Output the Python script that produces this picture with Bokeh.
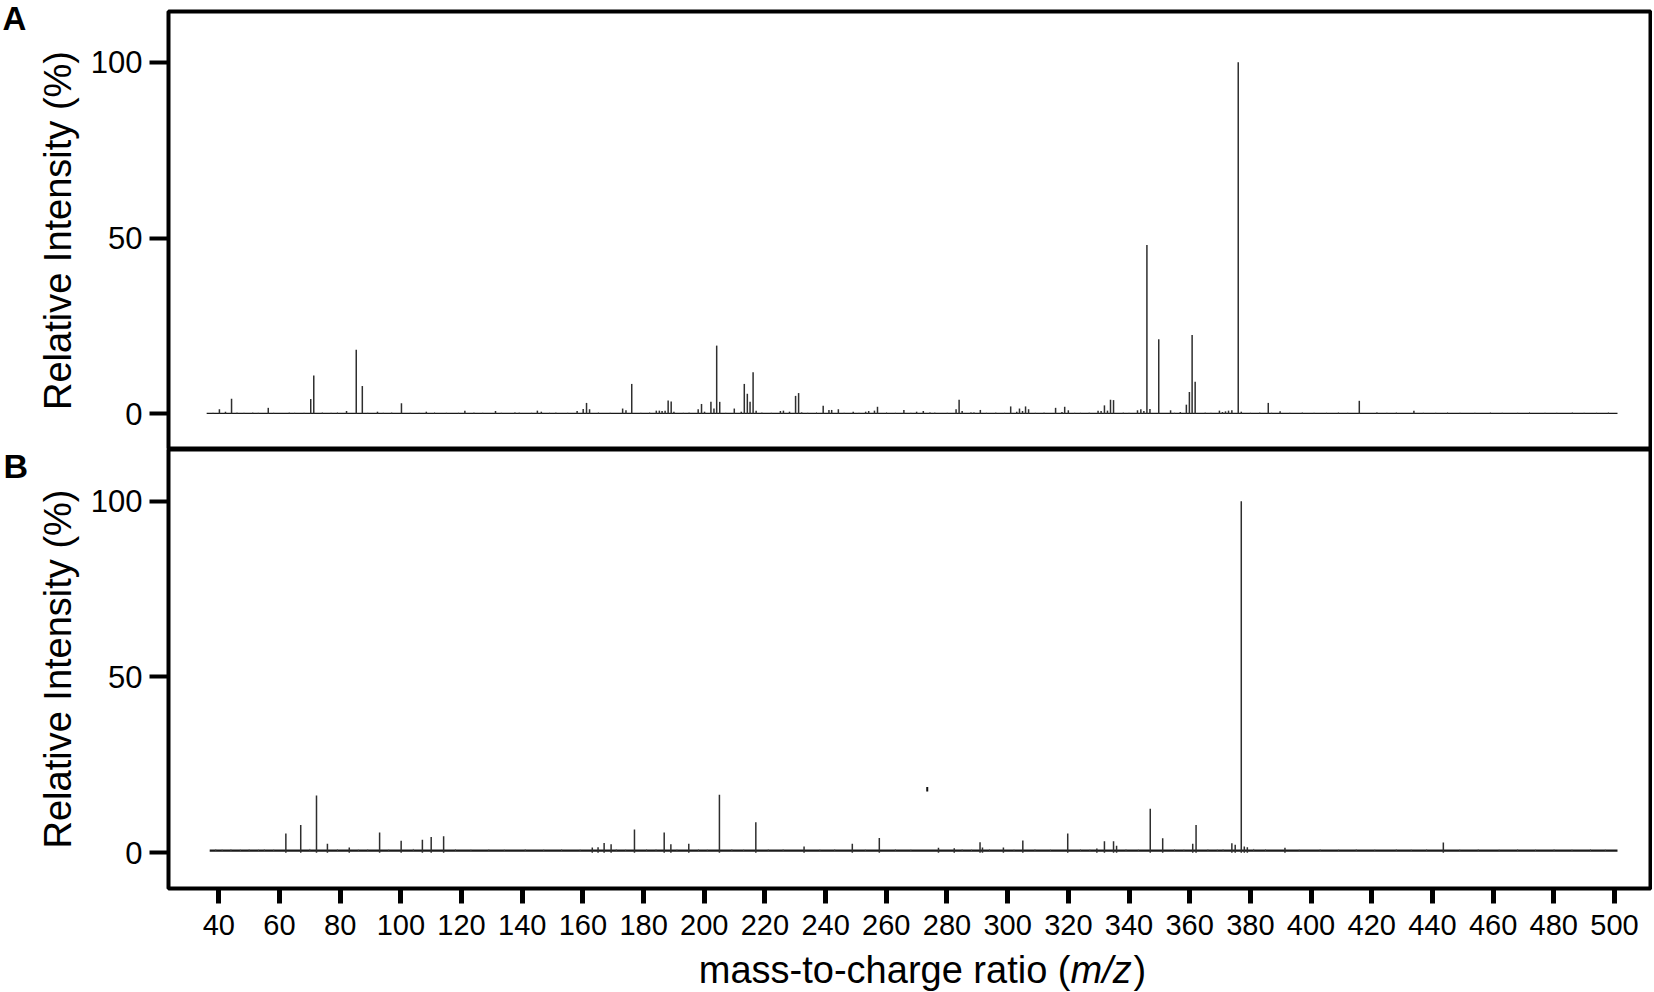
from bokeh.plotting import figure
from bokeh.models import Range1d, FixedTicker, Label, ColumnDataSource
from bokeh.layouts import column, row
from bokeh.embed import file_html
from bokeh.resources import INLINE

FONT = "Liberation Sans"

# ---------------- data ----------------
X_TICKS = [40, 60, 80, 100, 120, 140, 160, 180, 200, 220, 240, 260, 280, 300,
           320, 340, 360, 380, 400, 420, 440, 460, 480, 500]
Y_TICKS = [0, 50, 100]

# Spectrum A (top)
A_scan_range = [36.0, 501.0]
A_floor = 0.15
A_mz = [40.2, 42.2, 44.2, 56.3, 70.3, 71.3, 82.1, 85.3, 87.3, 92.3, 100.2, 108.4,
        121.1, 131.2, 137.6, 145.0, 146.3, 158.1, 160.1, 161.2, 162.2, 173.1, 174.2,
        176.1, 184.2, 185.2, 186.1, 187.1, 188.1, 189.1, 190.0, 198.0, 199.1, 200.1,
        202.2, 203.2, 204.1, 205.1, 209.9, 212.2, 213.2, 214.2, 215.1, 216.1, 217.1,
        225.1, 226.1, 228.1, 230.1, 231.1, 232.1, 239.2, 241.1, 242.0, 244.2, 249.1,
        253.2, 254.2, 256.1, 257.1, 265.8, 270.0, 272.2, 274.4, 283.0, 284.0, 285.0,
        287.9, 288.9, 291.0, 301.0, 303.0, 303.9, 304.9, 305.9, 306.9, 315.8, 317.9,
        318.8, 320.0, 326.9, 329.8, 330.8, 331.9, 332.9, 333.9, 334.9, 342.8, 343.9,
        344.9, 345.9, 346.9, 349.8, 353.7, 356.9, 358.9, 359.9, 360.8, 361.8, 369.8,
        370.8, 371.8, 372.8, 373.9, 376.0, 377.0, 385.9, 389.8, 415.9, 421.7, 433.9]
A_int = [1.3, 0.6, 4.3, 1.7, 4.2, 10.9, 0.8, 18.2, 7.9, 0.6, 3.0, 0.6,
         0.9, 0.8, 0.4, 0.9, 0.6, 0.8, 1.4, 3.1, 1.3, 1.5, 1.0,
         8.5, 0.9, 0.9, 0.8, 0.9, 3.8, 3.5, 0.6, 1.3, 2.8, 0.6,
         3.4, 1.5, 19.4, 3.4, 1.5, 0.6, 8.5, 5.7, 3.4, 11.8, 0.9,
         0.8, 0.9, 0.6, 5.1, 5.9, 0.4, 2.3, 1.1, 1.1, 1.3, 0.6,
         0.6, 0.8, 0.9, 2.0, 1.1, 0.6, 0.8, 0.4, 1.3, 4.0, 0.8,
         0.4, 0.4, 1.1, 2.1, 0.6, 1.5, 0.8, 2.1, 1.3, 1.7, 0.5,
         2.0, 1.0, 0.3, 0.9, 0.8, 2.4, 0.9, 4.0, 3.9, 1.0, 1.3,
         0.8, 48.0, 1.4, 21.2, 1.0, 0.5, 2.6, 6.2, 22.4, 9.1, 0.9,
         0.5, 0.7, 0.9, 1.0, 100.0, 0.6, 3.1, 0.7, 3.7, 0.4, 0.9]
A_minor_mz = [38.1, 46.0, 48.3, 51.2, 53.0, 58.1, 63.2, 65.0, 68.1, 74.1, 77.0, 79.1,
              89.1, 94.2, 97.0, 103.1, 106.0, 111.1, 115.0, 119.0, 124.1, 127.0, 133.1,
              139.0, 143.1, 149.0, 151.1, 155.0, 165.1, 169.0, 179.1, 182.0, 193.1, 195.0,
              207.1, 219.0, 222.1, 234.1, 237.0, 246.1, 251.0, 260.1, 263.0, 268.1, 276.0,
              280.1, 293.0, 296.1, 299.0, 309.1, 312.0, 322.1, 324.0, 338.1, 340.0, 355.0,
              365.1, 367.0, 380.0, 383.1, 387.0, 393.0, 397.1, 401.0, 405.1, 409.0, 412.1,
              425.0, 428.1, 437.0, 441.1, 445.0, 449.1, 454.0, 459.1, 463.0, 468.1, 472.0,
              477.1, 481.0, 486.1, 490.0, 494.1, 498.0]
A_minor_int = [0.3, 0.4, 0.3, 0.4, 0.3, 0.3, 0.4, 0.3, 0.3, 0.4, 0.3, 0.4,
               0.3, 0.3, 0.4, 0.3, 0.3, 0.4, 0.3, 0.3, 0.4, 0.3, 0.3,
               0.4, 0.3, 0.3, 0.4, 0.3, 0.4, 0.3, 0.3, 0.4, 0.3, 0.4,
               0.3, 0.4, 0.3, 0.3, 0.4, 0.3, 0.3, 0.4, 0.3, 0.3, 0.4,
               0.3, 0.3, 0.4, 0.3, 0.3, 0.4, 0.3, 0.3, 0.4, 0.3, 0.3,
               0.4, 0.3, 0.3, 0.4, 0.3, 0.3, 0.4, 0.3, 0.3, 0.4, 0.3,
               0.3, 0.4, 0.3, 0.3, 0.4, 0.3, 0.3, 0.4, 0.3, 0.3, 0.4,
               0.3, 0.3, 0.4, 0.3, 0.3, 0.4]

# Spectrum B (bottom)
B_scan_range = [37.0, 501.0]
B_floor = 0.6
B_mz = [62.1, 67.0, 72.2, 75.8, 83.0, 93.0, 100.1, 107.1, 110.0, 114.1, 163.1, 165.0,
        167.0, 169.3, 177.0, 186.8, 189.0, 194.9, 205.0, 217.0, 232.9, 248.8, 257.7,
        277.2, 282.4, 290.9, 291.7, 298.6, 305.0, 319.8, 329.4, 331.9, 334.9, 335.9,
        347.0, 351.1, 361.0, 362.1, 373.9, 375.0, 377.0, 378.0, 379.0, 391.4, 443.6]
B_int = [5.5, 7.9, 16.3, 2.6, 1.5, 5.8, 3.4, 3.7, 4.5, 4.7, 1.5, 1.6,
         2.8, 2.4, 6.6, 5.8, 2.4, 2.6, 16.5, 8.7, 1.8, 2.6, 4.2,
         1.4, 1.3, 3.0, 1.5, 1.5, 3.5, 5.5, 1.2, 3.3, 3.3, 2.0,
         12.5, 4.1, 2.6, 7.9, 2.7, 2.3, 100.0, 1.8, 1.6, 1.4, 2.9]
B_minor_mz = [39.0, 41.1, 44.0, 47.1, 50.0, 53.1, 55.0, 58.1, 70.0, 79.1, 86.0, 89.1,
              96.0, 104.1, 118.0, 123.1, 129.0, 134.1, 141.0, 147.1, 153.0, 159.1, 171.0,
              174.1, 181.0, 184.1, 191.0, 198.1, 201.0, 209.1, 213.0, 221.1, 226.0, 238.1,
              243.0, 253.1, 263.0, 268.1, 285.0, 288.1, 294.0, 302.1, 309.0, 314.1, 324.0,
              327.1, 339.0, 343.1, 355.0, 358.1, 366.0, 369.1, 371.0, 381.1, 385.0, 396.1,
              403.0, 409.1, 414.9, 421.0, 428.1, 433.0, 438.1, 449.0, 455.1, 462.0, 468.1,
              474.0, 480.1, 486.0, 492.1, 497.0]
B_minor_int = [1.0, 0.9, 1.0, 0.9, 1.0, 0.9, 1.0, 0.9, 1.1, 1.0, 0.9, 1.0,
               0.9, 1.1, 1.0, 0.9, 1.0, 0.9, 1.0, 0.9, 1.0, 0.9, 1.0,
               0.9, 1.0, 1.0, 0.9, 1.0, 0.9, 1.0, 0.9, 1.0, 1.0, 0.9,
               1.0, 0.9, 1.0, 0.9, 1.0, 0.9, 1.0, 0.9, 1.0, 0.9, 1.0,
               0.9, 1.0, 0.9, 1.0, 0.9, 1.0, 0.9, 1.0, 1.1, 1.0, 0.9,
               1.0, 0.9, 1.0, 0.9, 1.0, 0.9, 1.0, 0.9, 1.0, 0.9, 1.0,
               0.9, 1.0, 0.9, 1.0, 0.9]
B_artifact_mz = [273.5]
B_artifact_lo = [17.4]
B_artifact_hi = [18.7]

PANEL_LABELS = ["A", "B"]
Y_LABEL = "Relative Intensity (%)"
X_LABEL_PARTS = ["mass-to-charge ratio (", "m/z", ")"]

# ---------------- layout constants ----------------
STRIP_W = 28
MAIN_W = 1624
BORDER_L = 140
BORDER_R = 2
H1 = 449
H2 = 497
H3 = 45
TOTAL_H = H1 + H2 + H3


# ---------------- helpers ----------------
def blank(p):
    p.xgrid.visible = False
    p.ygrid.visible = False
    p.background_fill_color = "white"
    p.border_fill_color = "white"
    p.outline_line_color = None


def style(p):
    p.xgrid.visible = False
    p.ygrid.visible = False
    p.background_fill_color = "white"
    p.border_fill_color = "white"
    p.outline_line_color = "black"
    p.outline_line_width = 4
    p.outline_line_alpha = 1.0
    ax = p.yaxis[0]
    ax.ticker = FixedTicker(ticks=Y_TICKS)
    ax.axis_line_color = None
    ax.major_tick_line_width = 4
    ax.major_tick_line_color = "black"
    ax.major_tick_out = 19
    ax.major_tick_in = 0
    ax.minor_tick_line_color = None
    ax.major_label_text_font = FONT
    ax.major_label_text_font_size = "31px"
    ax.major_label_text_color = "black"
    ax.major_label_standoff = 7
    ax.axis_label = Y_LABEL
    ax.axis_label_text_font = FONT
    ax.axis_label_text_font_size = "38px"
    ax.axis_label_text_font_style = "normal"
    ax.axis_label_text_color = "black"
    ax.axis_label_standoff = 9


def draw_spectrum(p, mz, inten, minor_mz, minor_int, scan_range, floor, base_w):
    src = ColumnDataSource(dict(x=mz, y=inten))
    msrc = ColumnDataSource(dict(x=minor_mz, y=minor_int))
    p.segment(x0=[scan_range[0]], y0=[floor], x1=[scan_range[1]], y1=[floor],
              line_color="#1a1a1a", line_width=base_w)
    p.segment(x0="x", y0=floor, x1="x", y1="y", source=msrc,
              line_color="#555555", line_width=1)
    p.segment(x0="x", y0=0, x1="x", y1="y", source=src,
              line_color="#2e2e2e", line_width=1.5)


def text_label(p, txt, x, y, size, style_, align):
    p.add_layout(Label(x=x, y=y, x_units="screen", y_units="screen",
                       text=txt, text_font=FONT, text_font_size=size,
                       text_font_style=style_, text_color="black",
                       text_align=align, text_baseline="alphabetic"))


xr = Range1d(23.42, 511.88)

# ---------------- top panel ----------------
p1 = figure(width=MAIN_W, height=H1, x_range=xr, y_range=Range1d(-10.15, 114.42),
            x_axis_location=None, output_backend="svg", toolbar_location=None,
            min_border_left=BORDER_L, min_border_right=BORDER_R, min_border_top=11,
            min_border_bottom=0)
style(p1)
draw_spectrum(p1, A_mz, A_int, A_minor_mz, A_minor_int, A_scan_range, A_floor, 1.2)

# ---------------- bottom panel ----------------
p2 = figure(width=MAIN_W, height=H2, x_range=xr, y_range=Range1d(-10.16, 114.70),
            output_backend="svg", toolbar_location=None,
            min_border_left=BORDER_L, min_border_right=BORDER_R, min_border_top=0,
            min_border_bottom=58)
style(p2)
xa = p2.xaxis[0]
xa.ticker = FixedTicker(ticks=X_TICKS)
xa.axis_line_color = None
xa.major_tick_line_width = 5
xa.major_tick_line_color = "black"
xa.major_tick_out = 15
xa.major_tick_in = 0
xa.minor_tick_line_color = None
xa.major_label_text_font = FONT
xa.major_label_text_font_size = "29px"
xa.major_label_text_color = "black"
xa.major_label_standoff = 11

draw_spectrum(p2, B_mz, B_int, B_minor_mz, B_minor_int, B_scan_range, B_floor, 2.2)
p2.segment(x0=B_artifact_mz, y0=B_artifact_lo, x1=B_artifact_mz, y1=B_artifact_hi,
           line_color="#111111", line_width=2)

# ---------------- x-axis title strip ----------------
p3 = figure(width=MAIN_W, height=H3, x_range=xr, y_range=Range1d(0, 1),
            x_axis_location=None, y_axis_location=None,
            output_backend="svg", toolbar_location=None,
            min_border_left=BORDER_L, min_border_right=BORDER_R, min_border_top=0,
            min_border_bottom=0)
blank(p3)
text_label(p3, X_LABEL_PARTS[0], 902, 22, "38px", "normal", "right")
text_label(p3, X_LABEL_PARTS[1], 902, 22, "38px", "italic", "left")
text_label(p3, X_LABEL_PARTS[2], 965, 22, "38px", "normal", "left")

# ---------------- panel-letter strip ----------------
ps = figure(width=STRIP_W, height=TOTAL_H, x_range=Range1d(0, 1), y_range=Range1d(0, 1),
            x_axis_location=None, y_axis_location=None,
            output_backend="svg", toolbar_location=None,
            min_border_left=0, min_border_right=0, min_border_top=0,
            min_border_bottom=0)
blank(ps)
text_label(ps, PANEL_LABELS[0], 2, TOTAL_H - 18, "33px", "bold", "left")
text_label(ps, PANEL_LABELS[1], 3, TOTAL_H - 465, "34px", "bold", "left")

layout = row(ps, column(p1, p2, p3, spacing=0), spacing=0)
open("out.html", "w").write(file_html(layout, INLINE))
